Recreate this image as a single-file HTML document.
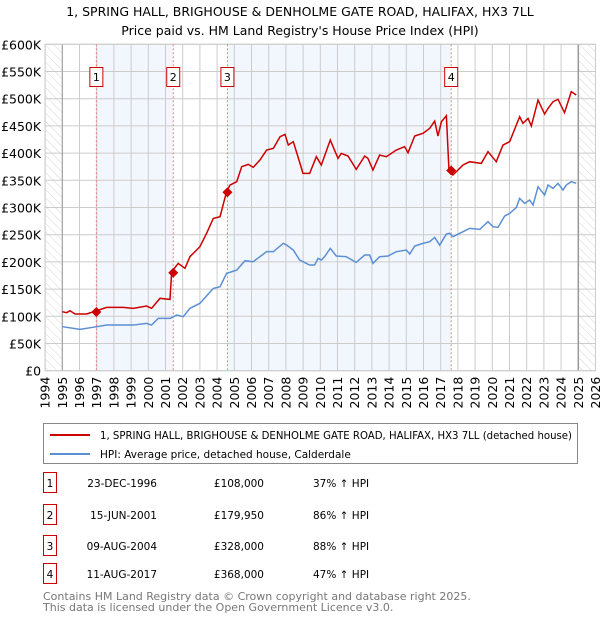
<!DOCTYPE html>
<html><head><meta charset="utf-8"><style>
body{margin:0;background:#fff;font-family:"DejaVu Sans","Liberation Sans",sans-serif;}
svg text{font-family:"DejaVu Sans","Liberation Sans",sans-serif;}
</style></head><body>
<svg id="chart" width="600" height="620" viewBox="0 0 600 620">
<defs><pattern id="hatch" width="6" height="6" patternUnits="userSpaceOnUse" patternTransform="rotate(-45)"><line x1="0" y1="0" x2="0" y2="6" stroke="#ccc" stroke-width="0.8"/></pattern></defs>
<text x="300" y="16" text-anchor="middle" font-size="12.5" fill="#000">1, SPRING HALL, BRIGHOUSE &amp; DENHOLME GATE ROAD, HALIFAX, HX3 7LL</text>
<text x="300" y="35" text-anchor="middle" font-size="12.5" fill="#000">Price paid vs. HM Land Registry's House Price Index (HPI)</text>
<g id="plot"></g>
<g>
<rect x="43.5" y="423.5" width="534" height="40" fill="#fff" stroke="#888"/>
<line x1="50" y1="435" x2="90" y2="435" stroke="#cc0000" stroke-width="2"/>
<text x="100" y="439" font-size="10.5" textLength="472" lengthAdjust="spacingAndGlyphs">1, SPRING HALL, BRIGHOUSE &amp; DENHOLME GATE ROAD, HALIFAX, HX3 7LL (detached house)</text>
<line x1="50" y1="454" x2="90" y2="454" stroke="#5b8fd4" stroke-width="2"/>
<text x="100" y="458" font-size="10.5">HPI: Average price, detached house, Calderdale</text>
</g>
<g id="table" font-size="10.5"></g>
<text x="43" y="600" font-size="11" fill="#777">Contains HM Land Registry data © Crown copyright and database right 2025.</text>
<text x="43" y="611" font-size="11" fill="#777">This data is licensed under the Open Government Licence v3.0.</text>
</svg>
<script>
const hpiYears=[1995,1996.03,1997,1997.58,1999.13,1999.9,2000.19,2000.58,2001.26,2001.65,2002.03,2002.42,2003,2003.78,2004.17,2004.55,2005.14,2005.62,2006.1,2006.88,2007.27,2007.85,2008.04,2008.43,2008.8,2009.38,2009.67,2009.87,2010.06,2010.25,2010.58,2010.93,2011.51,2012.09,2012.58,2012.87,2013.06,2013.45,2013.94,2014.42,2015,2015.2,2015.49,2015.97,2016.36,2016.65,2016.94,2017.33,2017.52,2017.71,2018.3,2018.68,2019.27,2019.75,2020.04,2020.33,2020.72,2021.01,2021.4,2021.59,2021.88,2022.17,2022.37,2022.66,2023.04,2023.24,2023.53,2023.82,2024.11,2024.3,2024.59,2024.88];
const hpiValues=[80.9,76,80.9,83.9,83.9,87,83.9,96.2,96.2,102.3,99.3,114.6,123.8,151.3,154.4,178.9,185,202.2,200.4,218.8,218.8,234.1,231,221.8,203.4,194.2,194.2,206.5,203.4,209.6,224.9,210.8,209.6,199.1,212.6,212.6,197.3,209.6,210.8,218.8,221.8,214.5,229.2,234.1,237.1,245.1,231,251.2,252.5,246.3,255.5,261.6,259.8,273.9,264.7,263.5,284.3,289.2,300.2,316.8,307.6,313.7,304.5,338.2,322.9,341.3,335.2,344.4,332.1,341.3,347.4,344.4];
const priceYears=[1995,1995.25,1995.45,1995.74,1996.41,1996.94,1997.58,1998.55,1999.13,1999.9,2000.19,2000.68,2001.26,2001.36,2001.74,2002.13,2002.42,2003,2003.39,2003.78,2004.17,2004.55,2004.75,2005.14,2005.43,2005.81,2006.1,2006.49,2006.88,2007.27,2007.66,2007.95,2008.14,2008.43,2008.82,2008.99,2009.38,2009.77,2010.06,2010.58,2011.03,2011.22,2011.61,2012.09,2012.58,2012.77,2013.06,2013.45,2013.84,2014.42,2014.9,2015.1,2015.49,2015.97,2016.36,2016.65,2016.84,2017.04,2017.33,2017.48,2017.71,2018.3,2018.68,2019.36,2019.75,2020.23,2020.62,2021.01,2021.59,2021.78,2022.08,2022.27,2022.66,2023.04,2023.24,2023.53,2023.82,2024.2,2024.59,2024.88];
const priceValues=[108.5,106.6,110.3,104.2,104.2,109.7,116.4,116.4,114.6,118.9,114.6,133,131.1,182,197.3,188.1,209.6,227.9,252.5,280,283.1,329,341.3,347.4,375,379.3,373.8,387.3,405.6,408.7,430.1,434.4,414.8,421,381.1,362.7,362.7,393.4,378.1,424,390.3,399.5,394.6,370.1,394.6,390.3,368.9,396.4,393.4,405.6,411.8,400.7,431.4,436.3,445.5,458.9,431.4,457.7,468.8,368.9,359.7,378.1,384.2,381.1,402.6,384.2,414.8,421,466.9,454.7,463.8,449.8,497.5,471.8,482.2,494.5,498.8,474.3,512.9,506.7];
const saleYears=[1996.98,2001.45,2004.6,2017.61];
const saleValues=[108,179.95,328,368];
const saleLabels=["1","2","3","4"];
const saleDates=["23-DEC-1996","15-JUN-2001","09-AUG-2004","11-AUG-2017"];
const salePrices=["£108,000","£179,950","£328,000","£368,000"];
const saleDiffs=["37% ↑ HPI","86% ↑ HPI","88% ↑ HPI","47% ↑ HPI"];
const yTicks=[0,50,100,150,200,250,300,350,400,450,500,550,600];
const yTickLabels=["£0","£50K","£100K","£150K","£200K","£250K","£300K","£350K","£400K","£450K","£500K","£550K","£600K"];
const xTicks=[1994,1995,1996,1997,1998,1999,2000,2001,2002,2003,2004,2005,2006,2007,2008,2009,2010,2011,2012,2013,2014,2015,2016,2017,2018,2019,2020,2021,2022,2023,2024,2025,2026];

const NS="http://www.w3.org/2000/svg";
const L=45.1,R=595.5,T=44.3,B=370.7;
const X=y=>L+(y-1994)*(R-L)/32;
const Y=v=>B-v*(B-T)/600;
const plot=document.getElementById('plot');
function mk(tag,attrs,parent){const e=document.createElementNS(NS,tag);for(const k in attrs)e.setAttribute(k,attrs[k]);(parent||plot).appendChild(e);return e;}
mk('rect',{x:L,y:T,width:R-L,height:B-T,fill:'#fff'});
const spans=[[0,1],[2,3]];
spans.forEach(s=>{const r=mk('rect',{x:X(saleYears[s[0]]),y:T,width:X(saleYears[s[1]])-X(saleYears[s[0]]),height:B-T,fill:'#eef3fc',opacity:0.75});

});
let h1=mk('rect',{x:L,y:T,width:X(1995)-L,height:B-T,fill:'url(#hatch)'});


let h2=mk('rect',{x:X(2025),y:T,width:R-X(2025),height:B-T,fill:'url(#hatch)'});


yTicks.forEach((v,i)=>{mk('line',{x1:L,x2:R,y1:Y(v),y2:Y(v),stroke:'#ccc','stroke-width':1});
const t=mk('text',{x:L-4,y:Y(v)+5,'text-anchor':'end','font-size':12.5,fill:'#000'});t.textContent=yTickLabels[i];

});
xTicks.forEach(yr=>{mk('line',{x1:X(yr),x2:X(yr),y1:T,y2:B,stroke:'#ccc','stroke-width':1});
const t=mk('text',{x:0,y:0,'text-anchor':'end','font-size':12.5,fill:'#000',transform:`translate(${X(yr)+4.5},${B+6}) rotate(-90)`});t.textContent=yr;

});
mk('line',{x1:X(1995),x2:X(1995),y1:T,y2:B,stroke:'#999','stroke-width':1});
mk('line',{x1:X(2025),x2:X(2025),y1:T,y2:B,stroke:'#999','stroke-width':1.5});
mk('rect',{x:L,y:T,width:R-L,height:B-T,fill:'none',stroke:'#ccc'});
saleYears.forEach((yr,i)=>{mk('line',{x1:X(yr),x2:X(yr),y1:T,y2:B,stroke:'#f08080','stroke-dasharray':'2,2','stroke-width':1});
const g=mk('g',{});


mk('rect',{x:X(yr)-6.5,y:67.5,width:13,height:19,fill:'#fff',stroke:'#cc0000'},g);
const t=mk('text',{x:X(yr),y:81,'text-anchor':'middle','font-size':11},g);t.textContent=saleLabels[i];});
const hp=mk('polyline',{points:hpiYears.map((y,i)=>X(y)+','+Y(hpiValues[i])).join(' '),fill:'none',stroke:'#5b8fd4','stroke-width':1.5});


const pp=mk('polyline',{points:priceYears.map((y,i)=>X(y)+','+Y(priceValues[i])).join(' '),fill:'none',stroke:'#cc0000','stroke-width':1.5});


saleYears.forEach((yr,i)=>{const cx=X(yr),cy=Y(saleValues[i]);
const d=mk('polygon',{points:`${cx},${cy-5} ${cx+5},${cy} ${cx},${cy+5} ${cx-5},${cy}`,fill:'#cc0000'});

});
const tb=document.getElementById('table');
const rowY=[483,515,546,574];
saleLabels.forEach((lab,i)=>{const y=rowY[i];
const g=mk('g',{},tb);


mk('rect',{x:43.5,y:y-10.5,width:13,height:20,fill:'#fff',stroke:'#cc0000'},g);
const a=mk('text',{x:50,y:y+4,'text-anchor':'middle'},g);a.textContent=lab;
const b=mk('text',{x:157,y:y+4,'text-anchor':'end'},g);b.textContent=saleDates[i];
const c=mk('text',{x:264,y:y+4,'text-anchor':'end'},g);c.textContent=salePrices[i];
const d=mk('text',{x:313,y:y+4},g);d.textContent=saleDiffs[i];});
</script>
</body></html>
